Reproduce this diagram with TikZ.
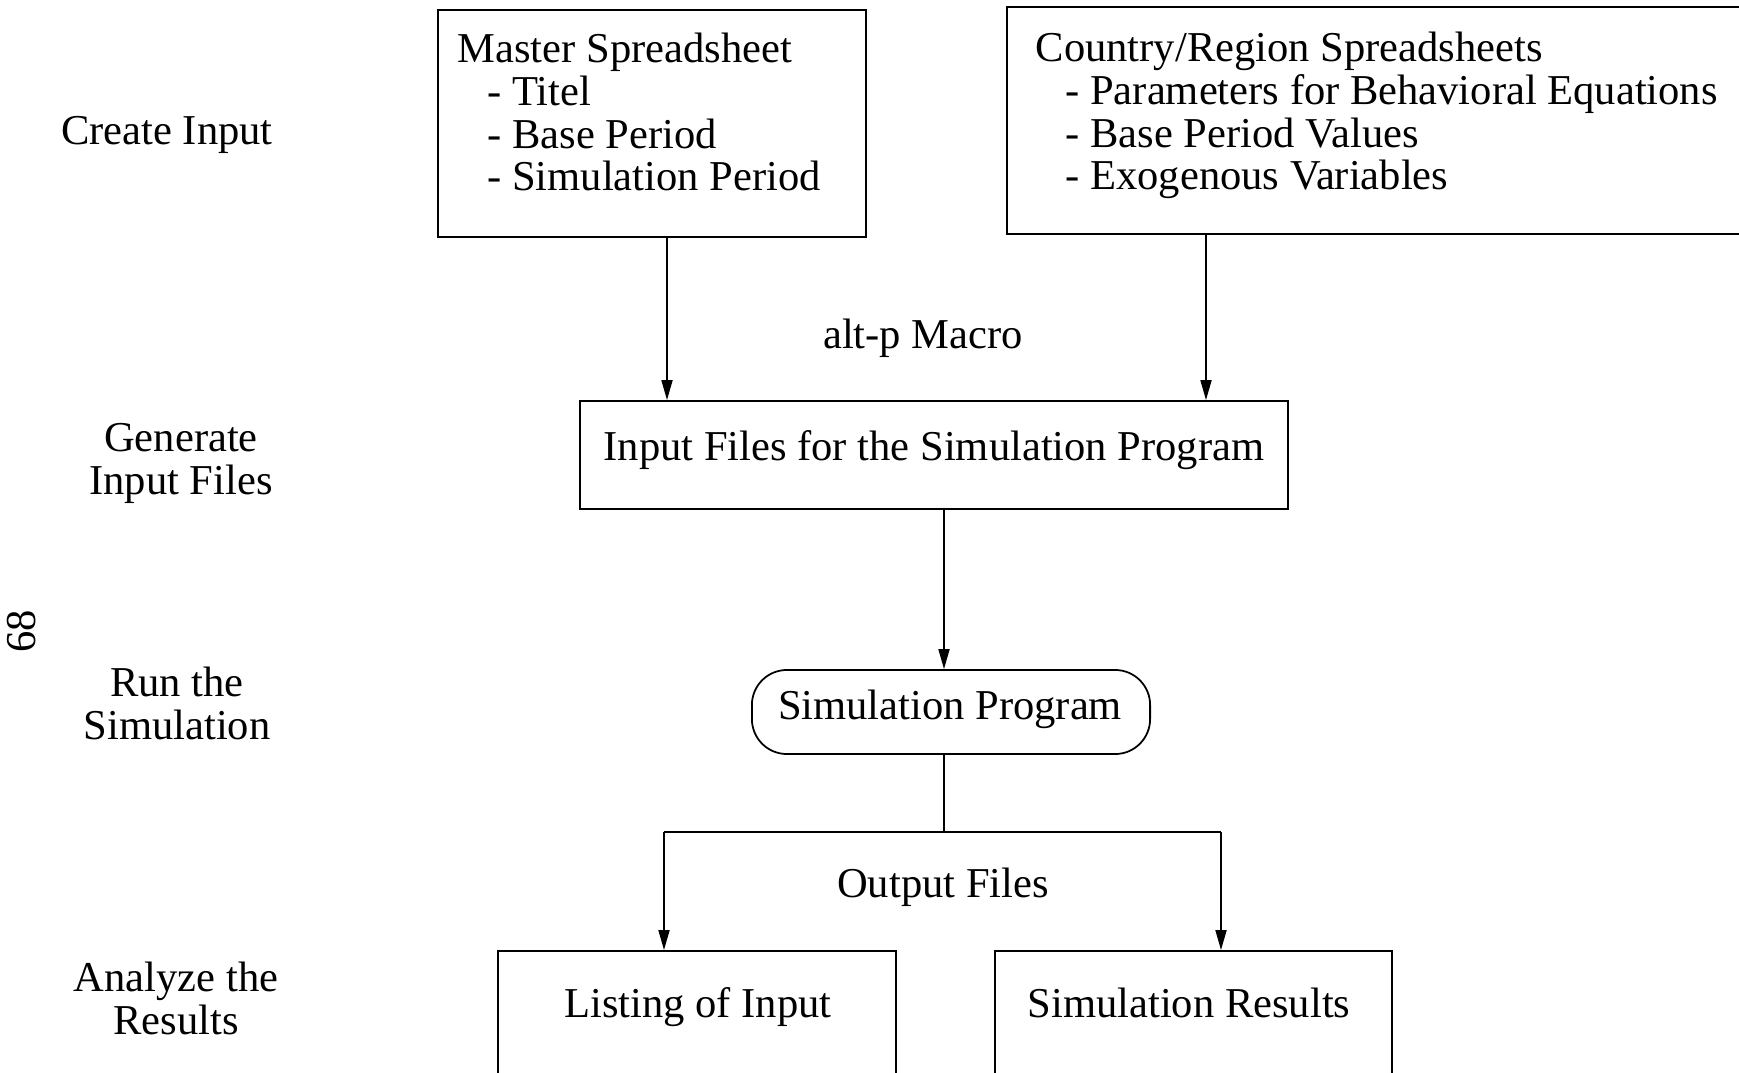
\documentclass[tikz,border=0pt]{standalone}
\usepackage{fontspec}
\setmainfont{Liberation Serif}
\usetikzlibrary{arrows.meta}
\begin{document}
\begin{tikzpicture}[x=0.01cm,y=-0.01cm,
  every node/.style={font=\fontsize{12.1}{12.2}\selectfont},
  box/.style={draw, line width=0.5pt, inner sep=0pt},
  arr/.style={-{Triangle[length=0.2cm,width=0.11cm]}, line width=0.5pt},
  ln/.style={line width=0.5pt},
  lbl/.style={align=center, inner sep=0pt},
  blk/.style={anchor=north west, inner sep=0pt, align=left}]
\clip (0,0) rectangle (1739,1073);
% left column
\node[lbl] (l1) at (167,134.5) {Create Input};
\node[lbl] (l2) at (181,463.5) {Generate\\Input Files};
\node[lbl] (l3) at (177,703) {Run the\\Simulation};
\node[lbl] (l4) at (176,998) {Analyze the\\Results};
\node[rotate=90, inner sep=0pt] (pg) at (22,631) {68};
% top boxes
\node[box, minimum width=4.28cm, minimum height=2.27cm] (master) at (652,123.5) {};
\node[blk] (mastertxt) at (457,32) {Master Spreadsheet\\\hspace*{0.7em}- Titel\\\hspace*{0.7em}- Base Period\\\hspace*{0.7em}- Simulation Period};
\node[box, minimum width=7.73cm, minimum height=2.27cm] (country) at (1393.5,120.5) {};
\node[blk] (countrytxt) at (1035,31) {Country/Region Spreadsheets\\\hspace*{0.7em}- Parameters for Behavioral Equations\\\hspace*{0.7em}- Base Period Values\\\hspace*{0.7em}- Exogenous Variables};
% middle
\node[inner sep=0pt] (macro) at (923,338) {alt-p Macro};
\node[box, minimum width=7.08cm, minimum height=1.08cm] (input) at (934,455) {};
\node[inner sep=0pt] (inputtxt) at (934,450) {Input Files for the Simulation Program};
\node[box, rounded corners=0.35cm, minimum width=3.98cm, minimum height=0.84cm] (sim) at (951,712) {};
\node[inner sep=0pt] (simtxt) at (950,709) {Simulation Program};
\node[inner sep=0pt] (outlbl) at (943,887) {Output Files};
% bottom boxes
\node[box, minimum width=3.98cm, minimum height=1.59cm] (listing) at (697,1030.5) {};
\node[inner sep=0pt] (listingtxt) at (698,1007) {Listing of Input};
\node[box, minimum width=3.97cm, minimum height=1.59cm] (results) at (1193.5,1030.5) {};
\node[inner sep=0pt] (resultstxt) at (1189,1003) {Simulation Results};
% connector helpers
\coordinate (mA) at (667,0);
\coordinate (cA) at (1206,0);
\coordinate (split) at (944,832);
\coordinate (jL) at (664,832);
\coordinate (jR) at (1221,832);
% connectors
\draw[arr] (master.south -| mA) -- (input.north -| mA);
\draw[arr] (country.south -| cA) -- (input.north -| cA);
\draw[arr] (input.south -| split) -- (sim.north -| split);
\draw[ln] (sim.south -| split) -- (split);
\draw[ln] (jL) -- (jR);
\draw[arr] (jL) -- (jL |- listing.north);
\draw[arr] (jR) -- (jR |- results.north);
\end{tikzpicture}
\end{document}
